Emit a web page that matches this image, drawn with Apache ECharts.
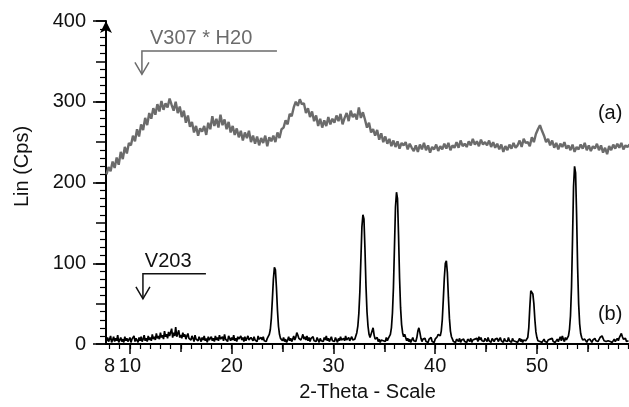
<!DOCTYPE html>
<html>
<head>
<meta charset="utf-8">
<script src="https://cdn.jsdelivr.net/npm/echarts@6/dist/echarts.min.js"></script>
<style>
  html, body { margin: 0; padding: 0; background: #fff; }
  #chart { width: 629px; height: 407px; }
</style>
</head>
<body>
<div id="chart"></div>
<script>
// measurement grid (2-Theta, degrees)
const patternBStart = 7.7;
const patternBStep = 0.1;
const patternAStart = 7.7;
const patternAStep = 0.2;

// (b) V203 pattern, Lin (Cps), one value per 0.1 deg
const patternBCps = [
  4, 8, 3,                                  // 7.7 - 7.9
  6, 10, 2, 5, 9, 3, 7, 4, 11, 2,           // 8
  5, 8, 3, 6, 2, 9, 4, 7, 3, 5,             // 9
  8, 2, 6, 4, 10, 3, 7, 5, 2, 8,            // 10
  4, 9, 3, 6, 11, 4, 7, 3, 10, 5,           // 11
  8, 4, 12, 6, 9, 5, 13, 7, 10, 6,          // 12
  14, 8, 11, 6, 16, 9, 12, 7, 15, 10,       // 13
  12, 19, 8, 14, 10, 21, 9, 13, 17, 8,      // 14
  11, 7, 14, 9, 12, 6, 10, 13, 7, 9,        // 15
  5, 10, 7, 3, 11, 6, 8, 4, 9, 6,           // 16
  3, 8, 5, 10, 4, 7, 2, 9, 5, 6,            // 17
  9, 4, 7, 3, 10, 5, 8, 4, 11, 6,           // 18
  5, 9, 4, 12, 6, 8, 3, 10, 7, 4,           // 19
  8, 5, 11, 4, 7, 3, 9, 6, 4, 10,           // 20
  5, 8, 3, 9, 4, 7, 10, 5, 3, 8,            // 21
  6, 4, 9, 5, 7, 3, 10, 6, 4, 8,            // 22
  5, 9, 4, 6, 3, 7, 8, 12, 18, 32,          // 23
  55, 80, 95, 92, 70, 42, 22, 12, 7, 5,     // 24
  4, 8, 3, 6, 2, 5, 9, 4, 7, 3,             // 25
  6, 10, 5, 8, 14, 11, 7, 9, 5, 8,          // 26
  12, 6, 9, 5, 10, 4, 8, 3, 7, 5,           // 27
  9, 4, 6, 3, 8, 5, 2, 7, 4, 6,             // 28
  3, 8, 5, 10, 4, 7, 3, 6, 9, 4,            // 29
  6, 3, 8, 5, 2, 7, 4, 9, 5, 3,             // 30
  7, 4, 10, 5, 3, 8, 4, 6, 9, 5,            // 31
  3, 6, 10, 14, 22, 38, 65, 105, 145, 160,  // 32
  155, 118, 72, 40, 22, 12, 8, 10, 16, 20,  // 33
  11, 6, 4, 8, 3, 6, 2, 5, 7, 4,            // 34
  6, 3, 8, 4, 7, 8, 12, 20, 38, 70,         // 35
  120, 170, 188, 180, 135, 82, 45, 24, 14, 9, // 36
  12, 8, 4, 7, 3, 6, 2, 5, 8, 4,            // 37
  6, 3, 8, 16, 20, 14, 7, 3, 6, 4,          // 38
  7, 3, 5, 2, 6, 4, 8, 3, 5, 2,             // 39
  6, 4, 9, 12, 14, 10, 16, 30, 55, 82,      // 40
  100, 103, 88, 58, 32, 16, 9, 6, 3, 5,     // 41
  2, 6, 4, 3, 7, 2, 5, 4, 6, 3,             // 42
  5, 2, 6, 4, 3, 7, 2, 5, 3, 6,             // 43
  4, 7, 3, 9, 5, 8, 4, 6, 3, 7,             // 44
  5, 3, 8, 4, 6, 2, 7, 5, 3, 6,             // 45
  4, 7, 3, 5, 8, 4, 6, 2, 7, 4,             // 46
  6, 3, 8, 4, 5, 2, 7, 4, 6, 3,             // 47
  5, 2, 4, 7, 3, 6, 2, 5, 3, 4,             // 48
  6, 8, 20, 45, 66, 68, 62, 50, 30, 15,     // 49
  8, 4, 6, 3, 5, 2, 4, 6, 3, 5,             // 50
  2, 5, 3, 6, 4, 7, 3, 5, 2, 4,             // 51
  6, 3, 5, 9, 4, 10, 6, 3, 8, 5,            // 52
  7, 10, 18, 35, 70, 130, 195, 220, 212, 160, // 53
  95, 50, 25, 13, 8, 5, 3, 6, 4, 2,         // 54
  5, 3, 6, 4, 2, 5, 3, 7, 4, 6,             // 55
  3, 5, 8, 6, 10, 7, 4, 6, 3, 5,            // 56
  4, 6, 3, 5, 2, 4, 6, 3, 5, 7,             // 57
  4, 8, 10, 13, 9, 6, 4, 7, 3, 5,           // 58
  4                                         // 59.0
];

// (a) V307 * H20 pattern, Lin (Cps), one value per 0.2 deg
const patternACps = [
  210, 219,                      // 7.7, 7.9
  214, 226, 218, 231, 222,       // 8
  238, 229, 244, 236, 249,       // 9
  246, 258, 251, 266, 257,       // 10
  272, 265, 280, 271, 286,       // 11
  279, 292, 284, 297, 288,       // 12
  301, 290, 298, 293, 304,       // 13
  296, 289, 300, 286, 294,       // 14
  281, 289, 274, 283, 269,       // 15
  275, 262, 270, 258, 267,       // 16
  263, 270, 259, 274, 266,       // 17
  282, 270, 279, 268, 284,       // 18
  271, 278, 266, 275, 262,       // 19
  270, 259, 267, 256, 264,       // 20
  252, 262, 255, 264, 250,       // 21
  258, 248, 257, 246, 255,       // 22
  249, 258, 245, 256, 251,       // 23
  258, 250, 262, 255, 266,       // 24
  268, 277, 272, 285, 282,       // 25
  293, 300, 295, 303, 297,       // 26
  298, 286, 292, 281, 288,       // 27
  276, 283, 270, 279, 268,       // 28
  277, 270, 281, 272, 279,       // 29
  274, 283, 276, 285, 272,       // 30
  280, 286, 276, 289, 281,       // 31
  285, 278, 293, 280, 287,       // 32
  278, 268, 274, 262, 266,       // 33
  258, 265, 253, 261, 250,       // 34
  257, 248, 254, 245, 252,       // 35
  244, 251, 242, 249, 246,       // 36
  250, 241, 248, 243, 239,       // 37
  246, 238, 247, 241, 249,       // 38
  240, 246, 237, 244, 241,       // 39
  247, 239, 245, 241, 248,       // 40
  242, 249, 240, 246, 243,       // 41
  250, 243, 252, 245, 248,       // 42
  244, 251, 246, 254, 247,       // 43
  251, 245, 253, 247, 250,       // 44
  246, 252, 244, 250, 243,       // 45
  248, 241, 247, 238, 245,       // 46
  240, 247, 242, 249, 243,       // 47
  246, 252, 244, 254, 249,       // 48
  250, 245, 256, 250, 260,       // 49
  266, 271, 264, 258, 250,       // 50
  254, 246, 252, 243, 249,       // 51
  241, 248, 244, 250, 242,       // 52
  246, 240, 247, 238, 244,       // 53
  241, 247, 242, 249, 240,       // 54
  246, 239, 245, 242, 248,       // 55
  240, 246, 237, 243, 235,       // 56
  245, 240, 247, 242, 248,       // 57
  243, 249, 241, 246, 244,       // 58
  247                            // 59.1
];

// axis labels
const xLabelValues = [8, 10, 20, 30, 40, 50];
const xMajorTicks = [10, 20, 30, 40, 50];
const xMidTicks = [15, 25, 35, 45, 55];
const xMinorTicks = [];
for (let t = 8; t <= 59; t++) xMinorTicks.push(t);

// annotations (data coordinates)
const bracketNotes = [
  { text: 'V307 * H20', stem: 11.18, end: 24.45, level: 363, tip: 334, textAt: 11.97 },
  { text: 'V203', stem: 11.28, end: 17.47, level: 87, tip: 56, textAt: 11.47 }
];
const curveTags = [
  { text: '(a)', at: 57.2, level: 285 },
  { text: '(b)', at: 57.2, level: 36 }
];

const FONT = '"Liberation Sans", Arial, sans-serif';
const GREY = '#6b6b6b';
const noteColors = [GREY, '#111'];

const toPoints = (start, step, values) =>
  values.map((v, i) => [+(start + i * step).toFixed(2), v]);

const chart = echarts.init(document.getElementById('chart'), null, { renderer: 'canvas' });

const xBase = {
  type: 'value',
  min: 7.65,
  max: 59.05,
  position: 'bottom',
  gridIndex: 0,
  splitLine: { show: false },
  axisLine: { show: false },
  axisLabel: { show: false }
};

const option = {
  animation: false,
  backgroundColor: '#fff',
  grid: { left: 106, right: 0, top: 21, bottom: 63, outerBoundsMode: 'none' },
  xAxis: [
    {
      ...xBase,
      name: '2-Theta - Scale',
      nameLocation: 'middle',
      nameGap: 38,
      nameTextStyle: { fontSize: 20, color: '#111', fontFamily: FONT },
      axisLine: { show: true, onZero: false, lineStyle: { color: '#000', width: 2 } },
      axisTick: { show: true, customValues: xMajorTicks, length: 10, lineStyle: { color: '#000', width: 1.5 } },
      axisLabel: { show: true, customValues: xLabelValues, margin: 12, fontSize: 20, color: '#111', fontFamily: FONT }
    },
    {
      ...xBase,
      axisTick: { show: true, customValues: xMidTicks, length: 8, lineStyle: { color: '#000', width: 1.5 } }
    },
    {
      ...xBase,
      axisTick: { show: true, customValues: xMinorTicks, length: 5, lineStyle: { color: '#000', width: 1.2 } }
    }
  ],
  yAxis: [
    {
      type: 'value',
      min: 0,
      max: 400,
      interval: 50,
      position: 'left',
      name: 'Lin (Cps)',
      nameLocation: 'middle',
      nameGap: 74,
      nameTextStyle: { fontSize: 20, color: '#111', fontFamily: FONT, padding: [0, 0, 0, 32] },
      splitLine: { show: false },
      axisLine: {
        show: true,
        onZero: false,
        symbol: ['none', 'arrow'],
        symbolSize: [9, 12],
        lineStyle: { color: '#000', width: 2 }
      },
      axisTick: { show: true, length: 10, lineStyle: { color: '#000', width: 1.5 } },
      minorTick: { show: true, splitNumber: 5, length: 6, lineStyle: { color: '#000', width: 1.2 } },
      axisLabel: {
        margin: 20,
        fontSize: 20,
        color: '#111',
        fontFamily: FONT,
        formatter: v => (v % 100 === 0 ? String(v) : '')
      }
    },
    {
      type: 'value',
      min: 0,
      max: 400,
      interval: 100,
      position: 'left',
      splitLine: { show: false },
      axisLine: { show: false },
      axisLabel: { show: false },
      axisTick: { show: true, length: 13, lineStyle: { color: '#000', width: 1.5 } }
    }
  ],
  series: [
    {
      name: 'V307 * H20',
      type: 'line',
      xAxisIndex: 0,
      yAxisIndex: 0,
      data: toPoints(patternAStart, patternAStep, patternACps),
      showSymbol: false,
      lineStyle: { color: GREY, width: 2.4 },
      z: 2
    },
    {
      name: 'V203',
      type: 'line',
      xAxisIndex: 0,
      yAxisIndex: 0,
      data: toPoints(patternBStart, patternBStep, patternBCps),
      showSymbol: false,
      lineStyle: { color: '#000', width: 1.7 },
      z: 3
    },
    {
      type: 'custom',
      xAxisIndex: 0,
      yAxisIndex: 0,
      clip: false,
      data: bracketNotes.map(n => [n.stem, n.level]),
      renderItem: (params, api) => {
        const n = bracketNotes[params.dataIndex];
        const color = noteColors[params.dataIndex];
        const pEnd = api.coord([n.end, n.level]);
        const pCorner = api.coord([n.stem, n.level]);
        const pTip = api.coord([n.stem, n.tip]);
        const pText = api.coord([n.textAt, n.level]);
        const line = { stroke: color, lineWidth: 1.5, fill: null };
        return {
          type: 'group',
          children: [
            { type: 'polyline', shape: { points: [pEnd, pCorner, pTip] }, style: line },
            {
              type: 'polyline',
              shape: { points: [[pTip[0] - 7, pTip[1] - 12], pTip, [pTip[0] + 7, pTip[1] - 12]] },
              style: line
            },
            {
              type: 'text',
              x: pText[0],
              y: pText[1] - 2,
              style: { text: n.text, fill: color, font: '20px ' + FONT, align: 'left', verticalAlign: 'bottom' }
            }
          ]
        };
      },
      z: 4
    },
    {
      type: 'custom',
      xAxisIndex: 0,
      yAxisIndex: 0,
      clip: false,
      data: curveTags.map(t => [t.at, t.level]),
      renderItem: (params, api) => {
        const t = curveTags[params.dataIndex];
        const p = api.coord([t.at, t.level]);
        return {
          type: 'text',
          x: p[0],
          y: p[1],
          style: { text: t.text, fill: '#111', font: '20px ' + FONT, align: 'center', verticalAlign: 'middle' }
        };
      },
      z: 4
    }
  ]
};

chart.setOption(option);
</script>
</body>
</html>
